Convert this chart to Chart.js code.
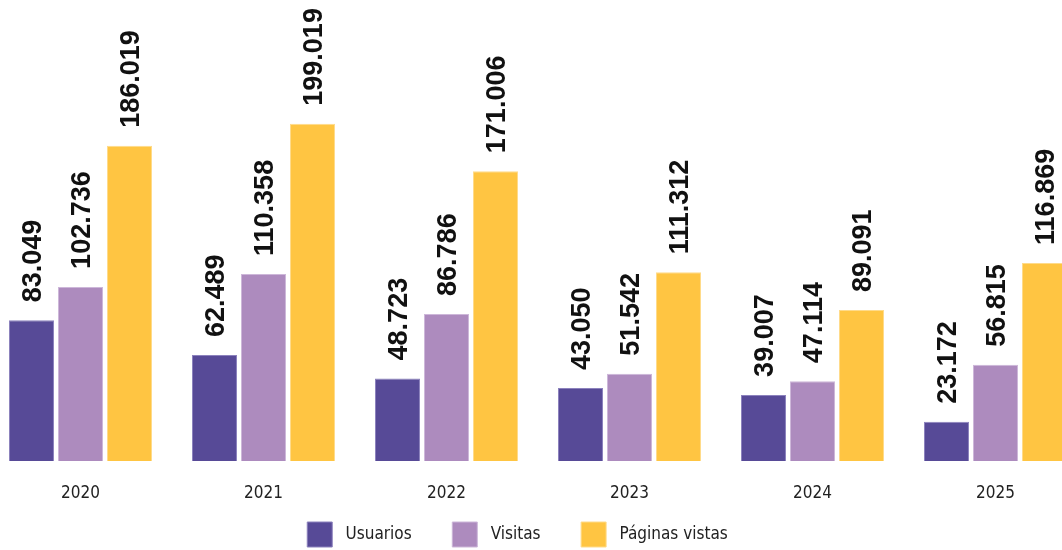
<!DOCTYPE html>
<html>
<head>
<meta charset="utf-8">
<script src="https://cdn.jsdelivr.net/npm/chart.js@4"></script>
<style>
  html, body { margin: 0; padding: 0; background: #fff; overflow: hidden; }
  #wrap { position: absolute; left: -52px; top: 0; width: 1139px; height: 557px; }
</style>
</head>
<body>
<div id="wrap"><canvas id="chart"></canvas></div>
<script>
// years on the x axis
const years = ["2020", "2021", "2022", "2023", "2024", "2025"];

// series values
const usuarios = [83049, 62489, 48723, 43050, 39007, 23172];
const visitas = [102736, 110358, 86786, 51542, 47114, 56815];
const paginasVistas = [186019, 199019, 171006, 111312, 89091, 116869];

const seriesNames = ["Usuarios", "Visitas", "Páginas vistas"];

const narrowFont = "'Liberation Sans Narrow', 'DejaVu Sans Condensed', sans-serif";

// 186019 -> "186.019"
const formatNum = (n) => String(n).replace(/\B(?=(\d{3})+(?!\d))/g, ".");

//draws the rotated value above every bar
const valueLabels = {
    id: "valueLabels",
    afterDatasetsDraw(chart) {
        const ctx = chart.ctx;
        ctx.save();
        ctx.font = "bold 27px 'Liberation Sans', Arial, sans-serif";
        ctx.fillStyle = "#111";
        ctx.textAlign = "left";
        ctx.textBaseline = "middle";
        chart.data.datasets.forEach((ds, i) => {
            const meta = chart.getDatasetMeta(i);
            meta.data.forEach((bar, j) => {
                ctx.save();
                ctx.translate(bar.x + 2, bar.y - 18);
                ctx.rotate(-Math.PI / 2);
                ctx.fillText(formatNum(ds.data[j]), 0, 0);
                ctx.restore();
            });
        });
        ctx.restore();
    }
};

new Chart(document.querySelector("#chart"), {
    type: "bar",
    data: {
        labels: years,
        datasets: [{
            label: seriesNames[0],
            data: usuarios,
            backgroundColor: "#574a97",
            borderColor: "#8c82bd",
            borderWidth: 1
        },
            {
                label: seriesNames[1],
                data: visitas,
                backgroundColor: "#ad8bbe",
                borderColor: "#cdb7d9",
                borderWidth: 1
            },
            {
                label: seriesNames[2],
                data: paginasVistas,
                backgroundColor: "#ffc542",
                borderColor: "#ffdb8a",
                borderWidth: 1
            }
        ]
    },
    options: {
        responsive: true,
        maintainAspectRatio: false,
        animation: false,
        datasets: {
            bar: {
                categoryPercentage: 0.8033,
                barPercentage: 0.918
            }
        },
        layout: { padding: 0 },
        plugins: {
            tooltip: { enabled: false },
            legend: {
                position: "bottom",
                labels: {
                    boxWidth: 25,
                    boxHeight: 25,
                    padding: 10,
                    color: "#222",
                    font: { family: narrowFont, size: 17 },
                    // wider gaps between the legend items than padding alone gives
                    generateLabels: (chart) =>
                        Chart.defaults.plugins.legend.labels.generateLabels(chart).map((item, i) => {
                            item.text = " " + item.text + (i < 2 ? "\u2003\u2003" : "");
                            return item;
                        })
                }
            }
        },
        scales: {
            x: {
                grid: { display: false },
                border: { display: false },
                ticks: {
                    color: "#222",
                    padding: 14,
                    font: { family: narrowFont, size: 17 }
                },
                afterFit: (scale) => { scale.height = 51; }
            },
            y: {
                min: 0,
                max: 272000,
                grid: { display: false },
                border: { display: false },
                ticks: { display: false },
                afterFit: (scale) => { scale.width = 41; }
            }
        }
    },
    plugins: [valueLabels]
});
</script>
</body>
</html>
